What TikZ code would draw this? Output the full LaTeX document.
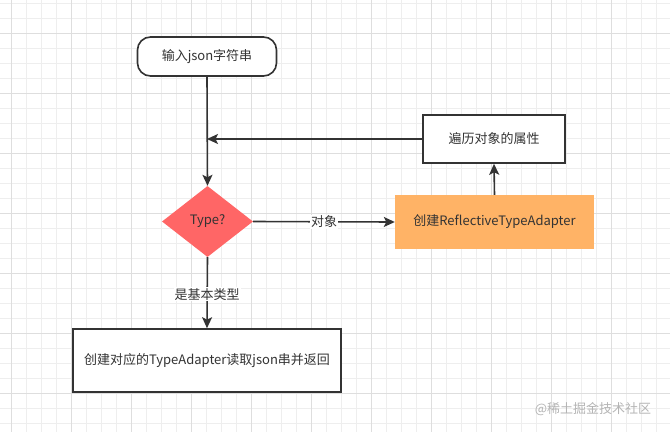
\documentclass[tikz,border=0pt]{standalone}
\usepackage{fontspec}
\setmainfont{Noto Sans CJK SC}
\usetikzlibrary{shapes.geometric,arrows.meta}
\definecolor{ink}{HTML}{333333}
\definecolor{gridminor}{HTML}{EEEEEE}
\definecolor{gridmajor}{HTML}{DEDEDE}
\definecolor{diamondred}{HTML}{FF6666}
\definecolor{orangefill}{HTML}{FFB366}
\definecolor{wmgray}{HTML}{B4B4B4}
\tikzset{
  txt/.style={font=\fontsize{13}{15}\selectfont, text=ink},
  boxnode/.style={txt, draw=ink, line width=1.6pt, fill=white, inner sep=0pt},
  flow/.style={draw=ink, line width=1.6pt, -{Stealth[length=11pt,width=10pt,inset=2.5pt]}},
  elabel/.style={txt, fill=white, inner sep=1pt},
}
\begin{document}
\begin{tikzpicture}[x=1pt,y=-1pt]
\useasboundingbox (0,0) rectangle (670,432);
\fill[white] (0,0) rectangle (670,432);
% grid
\foreach \i in {0,...,44} {\draw[gridminor, line width=0.7pt] ({11.7+15*\i},0) -- ({11.7+15*\i},432);}
\foreach \i in {0,...,28} {\draw[gridminor, line width=0.7pt] (0,{3.3+15*\i}) -- (670,{3.3+15*\i});}
\foreach \i in {0,...,11} {\draw[gridmajor, line width=0.7pt] ({11.7+60*\i},0) -- ({11.7+60*\i},432);}
\foreach \i in {0,...,7} {\draw[gridmajor, line width=0.7pt] (0,{33.3+60*\i}) -- (670,{33.3+60*\i});}

\node[boxnode, rounded corners=13pt, minimum width=139pt, minimum height=39pt] (start) at (207,56.5) {输入json字符串};
\node[txt, shape=diamond, fill=diamondred, inner sep=0pt, minimum width=91pt, minimum height=71pt, aspect=1.28] (type) at (207.5,221.5) {Type?};
\node[boxnode, minimum width=142pt, minimum height=48pt] (attr) at (494,139) {遍历对象的属性};
\node[txt, fill=orangefill, inner sep=0pt, minimum width=199pt, minimum height=54pt] (refl) at (494.5,222) {创建ReflectiveTypeAdapter};
\node[boxnode, minimum width=268pt, minimum height=63pt] (prim) at (207,360.5) {创建对应的TypeAdapter读取json串并返回};
\coordinate (join) at (207,139);

\draw[flow] (start.south) -- (type.north);
\draw[flow] (attr.west) -- (join);
\draw[flow] (type.east) -- node[elabel, pos=0.5] {对象} (refl.west);
\draw[flow] (refl.north) -- (attr.south);
\draw[flow] (type.south) -- node[elabel, pos=0.52] {是基本类型} (prim.north);

\node[font=\fontsize{13}{15}\selectfont, text=wmgray] (wm) at (593,409) {@稀土掘金技术社区};
\end{tikzpicture}
\end{document}
